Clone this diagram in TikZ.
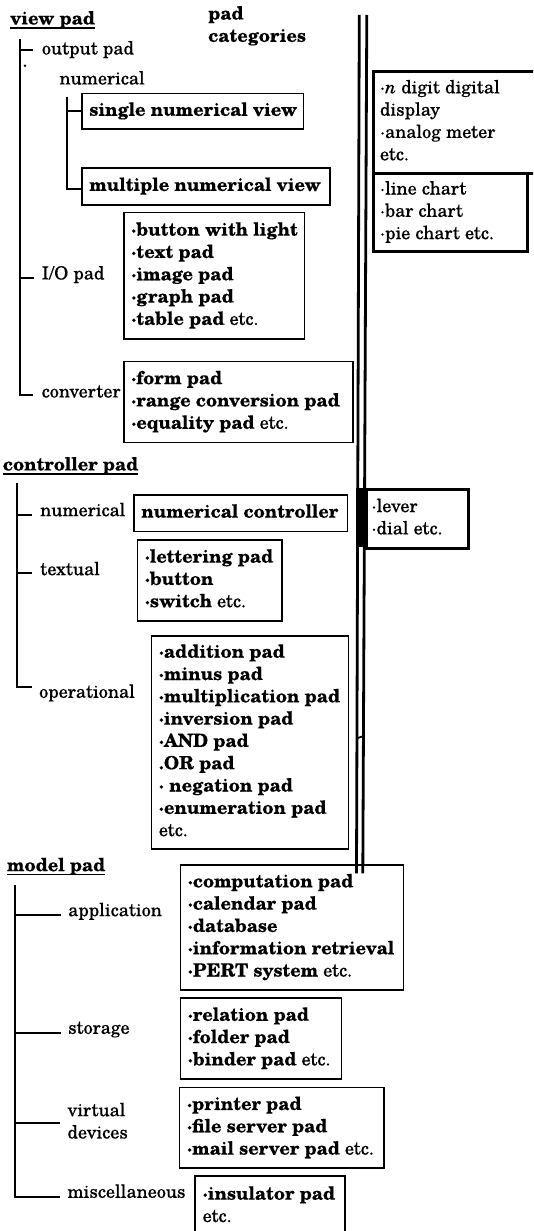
\documentclass[tikz,border=0pt]{standalone}
\usepackage{fontspec}
\setmainfont{TeX Gyre Schola}[FakeBold=0.35]
\newcommand\fs{\fontsize{18.2}{22.3}\selectfont}
\newcommand\tl[1]{\begin{tabular}{@{}l@{}}#1\end{tabular}}
\newcommand\padlines[2]{\makebox[#1pt][l]{\tl{#2}}}
\tikzset{
  lbl/.style={anchor=west, inner sep=0pt, font=\fs},
  box/.style={draw, line width=1.6pt, anchor=north west, inner xsep=7.5pt, inner ysep=0pt, font=\fs},
  rbox/.style={box, line width=3pt, inner xsep=6.5pt},
  tree/.style={line width=1.8pt},
  dbar/.style={line width=2.8pt},
  uline/.style={line width=1.4pt}
}
\begin{document}
\begin{tikzpicture}[x=1pt,y=-1pt]
\clip (0,0) rectangle (533,1231);
\fill[white] (0,0) rectangle (533,1231);

% ---------- headers ----------
\node[lbl] (vp) at (10,20) {\tl{\textbf{view pad}}};
\draw[uline] ([yshift=-3.5pt]vp.base west) -- ([yshift=-3.5pt]vp.base east);
\node[lbl] (cat) at (208,26.2) {\tl{\textbf{pad}\\\textbf{categories}}};

% ---------- view pad tree ----------
\coordinate (vpt) at (20,39.3);
\node[lbl] (out) at (41.7,50) {\tl{output pad}};
\fill (25,65.7) circle (1.4);
\node[lbl] (num) at (59.3,80) {\tl{numerical}};
\node[box, minimum height=35.6pt] (single) at (81,92.7) {\padlines{206.5}{\textbf{single numerical view}}};
\node[box, minimum height=36.7pt] (multi) at (81,167.3) {\padlines{233}{\textbf{multiple numerical view}}};
\coordinate (nt) at (66.7,97.3);
\coordinate (multiB) at ([yshift=-2.5pt]multi.west);
\draw[tree] (nt) |- (multiB);
\draw[tree] (nt |- single.west) -- (single.west);

\node[lbl] (iol) at (41.5,275) {\tl{I/O pad}};
\node[box, minimum height=126.6pt] (io) at (123,211.7) {\padlines{165.5}{%
\textbf{·button with light}\\ \textbf{·text pad}\\ \textbf{·image pad}\\ \textbf{·graph pad}\\ \textbf{·table pad} etc.}};
\node[lbl] (convl) at (41.5,393) {\tl{converter}};
\node[box, minimum height=81pt] (conv) at (123,360.7) {\padlines{214}{%
\textbf{·form pad}\\ \textbf{·range conversion pad}\\ \textbf{·equality pad} etc.}};
\coordinate (outB) at ([xshift=-8.5pt]out.west);
\coordinate (iolB) at ([xshift=-7.5pt,yshift=-3pt]iol.west);
\coordinate (convB) at ([xshift=-8.5pt,yshift=-2pt]convl.west);
\draw[tree] (vpt) |- (convB);
\draw[tree] (vpt |- outB) -- (outB);
\draw[tree] (vpt |- iolB) -- (iolB);

% ---------- right column ----------
\draw[dbar] (359.3,15) -- (356.5,873.3);
\draw[dbar] (366.8,15) -- (362.8,873.3);
\draw[line width=1.8pt] (357.5,738) -- (362.3,736.5);
\node[rbox, minimum height=101.7pt] (r1) at (372,70) {\padlines{162}{%
·\textit{n} digit digital\\ display\\ ·analog meter\\ etc.}};
\node[rbox, minimum height=78.3pt] (r2) at (372,171.7) {\padlines{141}{%
·line chart\\ ·bar chart\\ ·pie chart etc.}};
\fill (356.2,487.5) rectangle (364.5,547);
\node[rbox, minimum height=59.5pt, inner xsep=5.5pt] (lev) at (364.5,487.5) {\padlines{91.2}{%
·lever\\ ·dial etc.}};

% ---------- controller pad ----------
\node[lbl] (cp) at (2.7,466) {\tl{\textbf{controller pad}}};
\draw[uline] ([yshift=-3.5pt]cp.base west) -- ([yshift=-3.5pt]cp.base east);
\coordinate (ct) at (17,483.3);
\node[lbl] (numl) at (40,511.7) {\tl{numerical}};
\node[box, minimum height=36.7pt] (numc) at (133,494) {\padlines{198.7}{\textbf{numerical controller}}};
\node[lbl] (textl) at (40,570.7) {\tl{textual}};
\node[box, minimum height=80.7pt] (textb) at (136.6,539.3) {\padlines{129.8}{%
\textbf{·lettering pad}\\ \textbf{·button}\\ \textbf{·switch} etc.}};
\node[lbl] (operl) at (39,693.3) {\tl{operational}};
\node[box, minimum height=213.3pt] (oper) at (150.6,635) {\padlines{182.1}{%
\textbf{·addition pad}\\ \textbf{·minus pad}\\ \textbf{·multiplication pad}\\ \textbf{·inversion pad}\\ \textbf{·AND pad}\\ \textbf{.OR pad}\\ \textbf{· negation pad}\\ \textbf{·enumeration pad}\\ etc.}};
\coordinate (numlB) at ([xshift=-8pt,yshift=-3.3pt]numl.west);
\coordinate (textlB) at ([xshift=-8pt,yshift=-2.6pt]textl.west);
\coordinate (operlB) at ([xshift=-7pt,yshift=6.5pt]operl.west);
\draw[tree] (ct) |- (operlB);
\draw[tree] (ct |- numlB) -- (numlB);
\draw[tree] (ct |- textlB) -- (textlB);

% ---------- model pad ----------
\node[lbl] (mp) at (6.8,866.7) {\tl{\textbf{model pad}}};
\draw[uline] ([yshift=-3.5pt]mp.base west) -- ([yshift=-3.5pt]mp.base east);
\coordinate (mt) at (15.3,885);
\node[lbl] (appl) at (68,911.7) {\tl{application}};
\node[box, minimum height=125.3pt] (app) at (179.5,864) {\padlines{208.3}{%
\textbf{·computation pad}\\ \textbf{·calendar pad}\\ \textbf{·database}\\ \textbf{·information retrieval}\\ \textbf{·PERT system} etc.}};
\node[lbl] (storl) at (68,1029.3) {\tl{storage}};
\node[box, minimum height=81pt] (stor) at (179.5,997.3) {\padlines{146.1}{%
\textbf{·relation pad}\\ \textbf{·folder pad}\\ \textbf{·binder pad} etc.}};
\node[lbl] (virtl) at (67.3,1122.85) {\tl{virtual\\ devices}};
\node[box, minimum height=80.6pt] (virt) at (178.8,1086.7) {\padlines{189.6}{%
\textbf{·printer pad}\\ \textbf{·file server pad}\\ \textbf{·mail server pad} etc.}};
\node[lbl] (miscl) at (67.3,1193.3) {\tl{miscellaneous}};
\node[box, minimum height=83.4pt] (ins) at (194.4,1175) {\padlines{134.6}{%
\textbf{·insulator pad}\\ etc.\\ \mbox{}}};
\coordinate (applB) at ([xshift=-7.5pt,yshift=-3.3pt]appl.west);
\coordinate (storlB) at ([xshift=-7.5pt,yshift=-3.4pt]storl.west);
\coordinate (virtlB) at ([xshift=-7pt]virtl.west);
\coordinate (misclB) at ([xshift=-7pt,yshift=-3.4pt]miscl.west);
\draw[tree] (mt) |- (misclB);
\draw[tree] (mt |- applB) -- (applB);
\draw[tree] (mt |- storlB) -- (storlB);
\draw[tree] (mt |- virtlB) -- (virtlB);
\end{tikzpicture}
\end{document}
